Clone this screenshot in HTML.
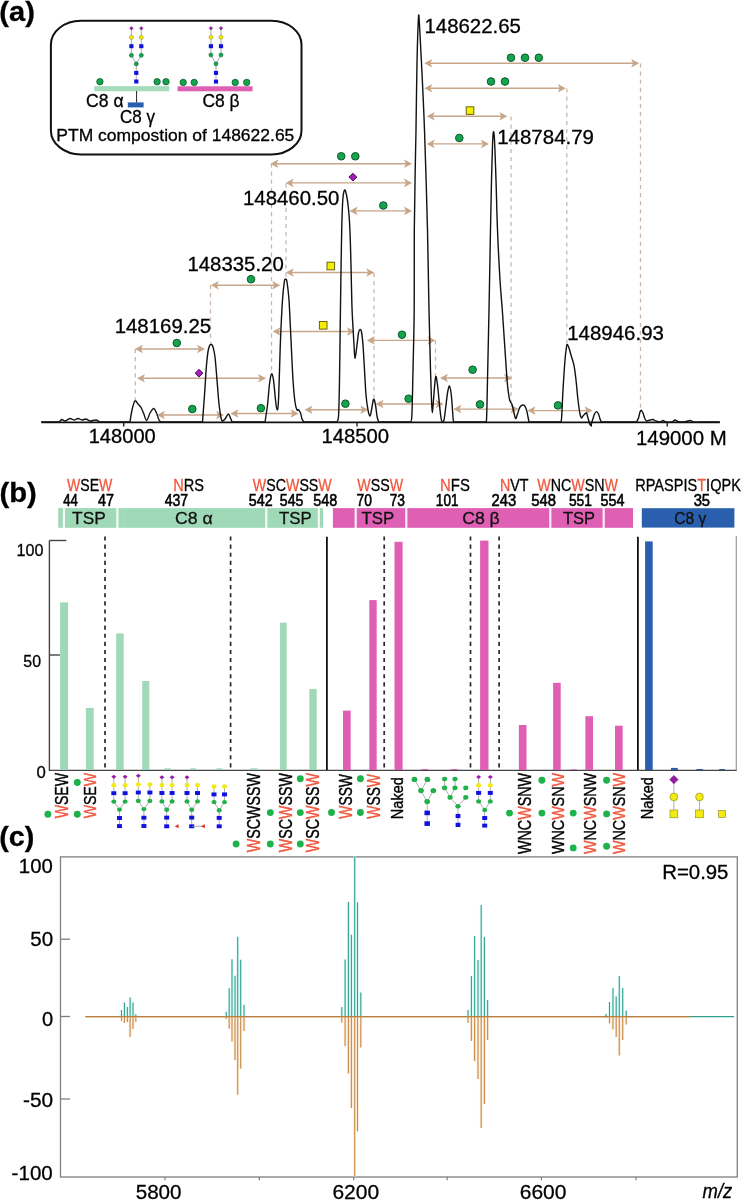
<!DOCTYPE html>
<html><head><meta charset="utf-8"><style>
html,body{margin:0;padding:0;background:#fff;}
svg{display:block;will-change:transform;}
text{font-family:"Liberation Sans", sans-serif;}
</style></head><body>
<svg width="742" height="1200" viewBox="0 0 742 1200">
<rect width="742" height="1200" fill="#fff"/>
<text x="-0.65" y="21.18" fill="#000" font-size="28.54" textLength="35.49" lengthAdjust="spacingAndGlyphs" font-weight="bold" stroke-width="0.3" stroke="#000">(a)</text>
<rect x="50.9" y="20.8" width="250.6" height="133.6" rx="30" ry="24" fill="none" stroke="#111" stroke-width="2"/>
<rect x="94.2" y="86.1" width="75" height="5.2" fill="#a6dcbc"/>
<line x1="136.6" y1="91" x2="136.6" y2="102.6" stroke="#222" stroke-width="1"/>
<rect x="127.8" y="102.4" width="15.8" height="5" fill="#2a5fae"/>
<rect x="177.5" y="86.3" width="75.1" height="5" fill="#df5fb4"/>
<circle cx="99.9" cy="81.7" r="3.2" fill="#16a34e" stroke="#0c5a2a" stroke-width="0.8"/>
<circle cx="157.1" cy="81.7" r="3.2" fill="#16a34e" stroke="#0c5a2a" stroke-width="0.8"/>
<circle cx="166" cy="81.7" r="3.2" fill="#16a34e" stroke="#0c5a2a" stroke-width="0.8"/>
<circle cx="183.2" cy="82.4" r="3.2" fill="#16a34e" stroke="#0c5a2a" stroke-width="0.8"/>
<circle cx="194.2" cy="82.4" r="3.2" fill="#16a34e" stroke="#0c5a2a" stroke-width="0.8"/>
<circle cx="235.2" cy="82.4" r="3.2" fill="#16a34e" stroke="#0c5a2a" stroke-width="0.8"/>
<circle cx="246.7" cy="82.4" r="3.2" fill="#16a34e" stroke="#0c5a2a" stroke-width="0.8"/>
<path d="M131.4,28.3V55.3L136.3,63.9L141.3,55.3V28.3M136.3,63.9V81.5" fill="none" stroke="#888" stroke-width="0.7"/>
<path d="M131.4,26.5L133.2,28.3L131.4,30.1L129.6,28.3Z" fill="#a21fb5" stroke="#4e0a58" stroke-width="0.4"/>
<circle cx="131.4" cy="37.4" r="2" fill="#f4ee00" stroke="#6a6410" stroke-width="0.4"/>
<rect x="129.3" y="44.2" width="4.2" height="4" fill="#1010e0"/>
<circle cx="131.4" cy="55.3" r="2.1" fill="#16a34e" stroke="#0c5a2a" stroke-width="0.4"/>
<path d="M141.3,26.5L143.1,28.3L141.3,30.1L139.5,28.3Z" fill="#a21fb5" stroke="#4e0a58" stroke-width="0.4"/>
<circle cx="141.3" cy="37.4" r="2" fill="#f4ee00" stroke="#6a6410" stroke-width="0.4"/>
<rect x="139.2" y="44.2" width="4.2" height="4" fill="#1010e0"/>
<circle cx="141.3" cy="55.3" r="2.1" fill="#16a34e" stroke="#0c5a2a" stroke-width="0.4"/>
<circle cx="136.3" cy="63.9" r="2.1" fill="#16a34e" stroke="#0c5a2a" stroke-width="0.4"/>
<rect x="134.2" y="70.9" width="4.2" height="4" fill="#1010e0"/>
<rect x="134.2" y="79.5" width="4.2" height="4" fill="#1010e0"/>
<path d="M210.9,28.2V55.0L216.0,63.8L221.0,55.0V28.2M216.0,63.8V81.6" fill="none" stroke="#888" stroke-width="0.7"/>
<path d="M210.9,26.4L212.7,28.2L210.9,30L209.1,28.2Z" fill="#a21fb5" stroke="#4e0a58" stroke-width="0.4"/>
<circle cx="210.9" cy="37.2" r="2" fill="#f4ee00" stroke="#6a6410" stroke-width="0.4"/>
<rect x="208.8" y="44.2" width="4.2" height="4" fill="#1010e0"/>
<circle cx="210.9" cy="55" r="2.1" fill="#16a34e" stroke="#0c5a2a" stroke-width="0.4"/>
<path d="M221,26.4L222.8,28.2L221,30L219.2,28.2Z" fill="#a21fb5" stroke="#4e0a58" stroke-width="0.4"/>
<circle cx="221" cy="37.2" r="2" fill="#f4ee00" stroke="#6a6410" stroke-width="0.4"/>
<rect x="218.9" y="44.2" width="4.2" height="4" fill="#1010e0"/>
<circle cx="221" cy="55" r="2.1" fill="#16a34e" stroke="#0c5a2a" stroke-width="0.4"/>
<circle cx="216" cy="63.8" r="2.1" fill="#16a34e" stroke="#0c5a2a" stroke-width="0.4"/>
<rect x="213.9" y="70.9" width="4.2" height="4" fill="#1010e0"/>
<rect x="213.9" y="79.6" width="4.2" height="4" fill="#1010e0"/>
<text x="86.11" y="107.3" fill="#000" font-size="17.9" textLength="37.5" lengthAdjust="spacingAndGlyphs" stroke-width="0.3" stroke="#000">C8 α</text>
<text x="202.41" y="107" fill="#000" font-size="17.9" textLength="37.18" lengthAdjust="spacingAndGlyphs" stroke-width="0.3" stroke="#000">C8 β</text>
<text x="119.94" y="123.4" fill="#000" font-size="17.9" textLength="35.02" lengthAdjust="spacingAndGlyphs" stroke-width="0.3" stroke="#000">C8 γ</text>
<text x="56.37" y="141.1" fill="#000" font-size="17.2" textLength="237.97" lengthAdjust="spacingAndGlyphs" stroke-width="0.3" stroke="#000">PTM compostion of 148622.65</text>
<line x1="135.3" y1="349" x2="135.3" y2="400" stroke="#cbb6a8" stroke-width="1.3" stroke-dasharray="4.1,4"/>
<line x1="210.5" y1="285" x2="210.5" y2="343" stroke="#cbb6a8" stroke-width="1.3" stroke-dasharray="4.1,4"/>
<line x1="271.5" y1="163.5" x2="271.5" y2="372" stroke="#cbb6a8" stroke-width="1.3" stroke-dasharray="4.1,4"/>
<line x1="286" y1="183.5" x2="286" y2="278" stroke="#cbb6a8" stroke-width="1.3" stroke-dasharray="4.1,4"/>
<line x1="374" y1="273" x2="374" y2="398" stroke="#cbb6a8" stroke-width="1.3" stroke-dasharray="4.1,4"/>
<line x1="435.5" y1="340.5" x2="435.5" y2="376" stroke="#cbb6a8" stroke-width="1.3" stroke-dasharray="4.1,4"/>
<line x1="511" y1="116.5" x2="511" y2="403" stroke="#cbb6a8" stroke-width="1.3" stroke-dasharray="4.1,4"/>
<line x1="566.8" y1="88.5" x2="566.8" y2="343" stroke="#cbb6a8" stroke-width="1.3" stroke-dasharray="4.1,4"/>
<line x1="640.5" y1="63.5" x2="640.5" y2="409" stroke="#cbb6a8" stroke-width="1.3" stroke-dasharray="4.1,4"/>
<line x1="427.3" y1="63.3" x2="636.2" y2="63.3" stroke="#c8a68a" stroke-width="1.4"/>
<path d="M424.3,63.3L432.3,59L430.4,63.3L432.3,67.6Z" fill="#c8a68a"/>
<path d="M639.2,63.3L631.2,59L633.1,63.3L631.2,67.6Z" fill="#c8a68a"/>
<line x1="427.3" y1="88.3" x2="562.8" y2="88.3" stroke="#c8a68a" stroke-width="1.4"/>
<path d="M424.3,88.3L432.3,84L430.4,88.3L432.3,92.6Z" fill="#c8a68a"/>
<path d="M565.8,88.3L557.8,84L559.7,88.3L557.8,92.6Z" fill="#c8a68a"/>
<line x1="429.7" y1="116.2" x2="504.3" y2="116.2" stroke="#c8a68a" stroke-width="1.4"/>
<path d="M426.7,116.2L434.7,111.9L432.8,116.2L434.7,120.5Z" fill="#c8a68a"/>
<path d="M507.3,116.2L499.3,111.9L501.2,116.2L499.3,120.5Z" fill="#c8a68a"/>
<line x1="429.7" y1="143.9" x2="486" y2="143.9" stroke="#c8a68a" stroke-width="1.4"/>
<path d="M426.7,143.9L434.7,139.6L432.8,143.9L434.7,148.2Z" fill="#c8a68a"/>
<path d="M489,143.9L481,139.6L482.9,143.9L481,148.2Z" fill="#c8a68a"/>
<line x1="273.4" y1="163.7" x2="409" y2="163.7" stroke="#c8a68a" stroke-width="1.4"/>
<path d="M270.4,163.7L278.4,159.4L276.5,163.7L278.4,168Z" fill="#c8a68a"/>
<path d="M412,163.7L404,159.4L405.9,163.7L404,168Z" fill="#c8a68a"/>
<line x1="288.6" y1="182.9" x2="409" y2="182.9" stroke="#c8a68a" stroke-width="1.4"/>
<path d="M285.6,182.9L293.6,178.6L291.7,182.9L293.6,187.2Z" fill="#c8a68a"/>
<path d="M412,182.9L404,178.6L405.9,182.9L404,187.2Z" fill="#c8a68a"/>
<line x1="352.6" y1="210.9" x2="409" y2="210.9" stroke="#c8a68a" stroke-width="1.4"/>
<path d="M349.6,210.9L357.6,206.6L355.7,210.9L357.6,215.2Z" fill="#c8a68a"/>
<path d="M412,210.9L404,206.6L405.9,210.9L404,215.2Z" fill="#c8a68a"/>
<line x1="213.8" y1="285.3" x2="277.2" y2="285.3" stroke="#c8a68a" stroke-width="1.4"/>
<path d="M210.8,285.3L218.8,281L216.9,285.3L218.8,289.6Z" fill="#c8a68a"/>
<path d="M280.2,285.3L272.2,281L274.1,285.3L272.2,289.6Z" fill="#c8a68a"/>
<line x1="288.8" y1="272.5" x2="371.3" y2="272.5" stroke="#c8a68a" stroke-width="1.4"/>
<path d="M285.8,272.5L293.8,268.2L291.9,272.5L293.8,276.8Z" fill="#c8a68a"/>
<path d="M374.3,272.5L366.3,268.2L368.2,272.5L366.3,276.8Z" fill="#c8a68a"/>
<line x1="275.6" y1="331.5" x2="351.9" y2="331.5" stroke="#c8a68a" stroke-width="1.4"/>
<path d="M272.6,331.5L280.6,327.2L278.7,331.5L280.6,335.8Z" fill="#c8a68a"/>
<path d="M354.9,331.5L346.9,327.2L348.8,331.5L346.9,335.8Z" fill="#c8a68a"/>
<line x1="369.8" y1="340.4" x2="432.5" y2="340.4" stroke="#c8a68a" stroke-width="1.4"/>
<path d="M366.8,340.4L374.8,336.1L372.9,340.4L374.8,344.7Z" fill="#c8a68a"/>
<path d="M435.5,340.4L427.5,336.1L429.4,340.4L427.5,344.7Z" fill="#c8a68a"/>
<line x1="137.9" y1="349" x2="202" y2="349" stroke="#c8a68a" stroke-width="1.4"/>
<path d="M134.9,349L142.9,344.7L141,349L142.9,353.3Z" fill="#c8a68a"/>
<path d="M205,349L197,344.7L198.9,349L197,353.3Z" fill="#c8a68a"/>
<line x1="140" y1="378.3" x2="263" y2="378.3" stroke="#c8a68a" stroke-width="1.4"/>
<path d="M137,378.3L145,374L143.1,378.3L145,382.6Z" fill="#c8a68a"/>
<path d="M266,378.3L258,374L259.9,378.3L258,382.6Z" fill="#c8a68a"/>
<line x1="160" y1="415" x2="221" y2="415" stroke="#c8a68a" stroke-width="1.4"/>
<path d="M157,415L165,410.7L163.1,415L165,419.3Z" fill="#c8a68a"/>
<path d="M224,415L216,410.7L217.9,415L216,419.3Z" fill="#c8a68a"/>
<line x1="233.4" y1="413.5" x2="295.6" y2="413.5" stroke="#c8a68a" stroke-width="1.4"/>
<path d="M230.4,413.5L238.4,409.2L236.5,413.5L238.4,417.8Z" fill="#c8a68a"/>
<path d="M298.6,413.5L290.6,409.2L292.5,413.5L290.6,417.8Z" fill="#c8a68a"/>
<line x1="307.5" y1="409.7" x2="365.2" y2="409.7" stroke="#c8a68a" stroke-width="1.4"/>
<path d="M304.5,409.7L312.5,405.4L310.6,409.7L312.5,414Z" fill="#c8a68a"/>
<path d="M368.2,409.7L360.2,405.4L362.1,409.7L360.2,414Z" fill="#c8a68a"/>
<line x1="378.6" y1="404" x2="440.6" y2="404" stroke="#c8a68a" stroke-width="1.4"/>
<path d="M375.6,404L383.6,399.7L381.7,404L383.6,408.3Z" fill="#c8a68a"/>
<path d="M443.6,404L435.6,399.7L437.5,404L435.6,408.3Z" fill="#c8a68a"/>
<line x1="443" y1="378" x2="509" y2="378" stroke="#c8a68a" stroke-width="1.4"/>
<path d="M440,378L448,373.7L446.1,378L448,382.3Z" fill="#c8a68a"/>
<path d="M512,378L504,373.7L505.9,378L504,382.3Z" fill="#c8a68a"/>
<line x1="456.4" y1="409.1" x2="515.6" y2="409.1" stroke="#c8a68a" stroke-width="1.4"/>
<path d="M453.4,409.1L461.4,404.8L459.5,409.1L461.4,413.4Z" fill="#c8a68a"/>
<path d="M518.6,409.1L510.6,404.8L512.5,409.1L510.6,413.4Z" fill="#c8a68a"/>
<line x1="530.5" y1="410.6" x2="589.5" y2="410.6" stroke="#c8a68a" stroke-width="1.4"/>
<path d="M527.5,410.6L535.5,406.3L533.6,410.6L535.5,414.9Z" fill="#c8a68a"/>
<path d="M592.5,410.6L584.5,406.3L586.4,410.6L584.5,414.9Z" fill="#c8a68a"/>
<circle cx="511" cy="57.7" r="3.8" fill="#16a34e" stroke="#0c5a2a" stroke-width="1.0"/>
<circle cx="525" cy="57.7" r="3.8" fill="#16a34e" stroke="#0c5a2a" stroke-width="1.0"/>
<circle cx="538.8" cy="57.7" r="3.8" fill="#16a34e" stroke="#0c5a2a" stroke-width="1.0"/>
<circle cx="491" cy="81.5" r="3.8" fill="#16a34e" stroke="#0c5a2a" stroke-width="1.0"/>
<circle cx="505" cy="81.5" r="3.8" fill="#16a34e" stroke="#0c5a2a" stroke-width="1.0"/>
<circle cx="459.3" cy="138" r="3.8" fill="#16a34e" stroke="#0c5a2a" stroke-width="1.0"/>
<circle cx="341.2" cy="156.3" r="3.8" fill="#16a34e" stroke="#0c5a2a" stroke-width="1.0"/>
<circle cx="355.3" cy="156.3" r="3.8" fill="#16a34e" stroke="#0c5a2a" stroke-width="1.0"/>
<circle cx="383.3" cy="205.5" r="3.8" fill="#16a34e" stroke="#0c5a2a" stroke-width="1.0"/>
<circle cx="251" cy="279.2" r="3.8" fill="#16a34e" stroke="#0c5a2a" stroke-width="1.0"/>
<circle cx="402" cy="334.7" r="3.8" fill="#16a34e" stroke="#0c5a2a" stroke-width="1.0"/>
<circle cx="176.8" cy="343" r="3.8" fill="#16a34e" stroke="#0c5a2a" stroke-width="1.0"/>
<circle cx="192.3" cy="409" r="3.8" fill="#16a34e" stroke="#0c5a2a" stroke-width="1.0"/>
<circle cx="260.9" cy="408.2" r="3.8" fill="#16a34e" stroke="#0c5a2a" stroke-width="1.0"/>
<circle cx="345.4" cy="403.7" r="3.8" fill="#16a34e" stroke="#0c5a2a" stroke-width="1.0"/>
<circle cx="408.6" cy="398.7" r="3.8" fill="#16a34e" stroke="#0c5a2a" stroke-width="1.0"/>
<circle cx="472.6" cy="369.7" r="3.8" fill="#16a34e" stroke="#0c5a2a" stroke-width="1.0"/>
<circle cx="480" cy="404.4" r="3.8" fill="#16a34e" stroke="#0c5a2a" stroke-width="1.0"/>
<circle cx="558" cy="405.4" r="3.8" fill="#16a34e" stroke="#0c5a2a" stroke-width="1.0"/>
<rect x="466.2" y="106.8" width="7.6" height="7.6" fill="#f4ee00" stroke="#6a6410" stroke-width="1.0"/>
<rect x="327" y="262.2" width="7.6" height="7.6" fill="#f4ee00" stroke="#6a6410" stroke-width="1.0"/>
<rect x="319.4" y="321.5" width="7.6" height="7.6" fill="#f4ee00" stroke="#6a6410" stroke-width="1.0"/>
<path d="M352.9,173.2L356.8,177.1L352.9,181L349,177.1Z" fill="#a21fb5" stroke="#4e0a58" stroke-width="1.0"/>
<path d="M199,369.3L202.9,373.2L199,377.1L195.1,373.2Z" fill="#a21fb5" stroke="#4e0a58" stroke-width="1.0"/>
<path d="M41.3,422L59,422C59.5,421.58 61,419.67 62,419.5C63,419.33 63.67,421.17 65,421C66.33,420.83 68.5,418.67 70,418.5C71.5,418.33 72.67,420 74,420C75.33,420 76.67,418.5 78,418.5C79.33,418.5 80.67,419.92 82,420C83.33,420.08 84.67,418.83 86,419C87.33,419.17 88.33,420.83 90,421C91.67,421.17 94.33,419.83 96,420C97.67,420.17 99.33,421.67 100,422L130,422C130.33,420 131.18,413.5 132,410C132.82,406.5 133.9,402 134.9,401C135.9,400 136.98,402.92 138,404C139.02,405.08 140.08,406 141,407.5C141.92,409 142.57,410.83 143.5,413C144.43,415.17 145.52,420.5 146.6,420.5C147.68,420.5 148.8,415 150,413C151.2,411 152.72,408.5 153.8,408.5C154.88,408.5 155.63,411.08 156.5,413C157.37,414.92 158.25,418.5 159,420C159.75,421.5 160.67,421.67 161,422L202.5,422C202.83,417.5 203.83,404.5 204.5,395C205.17,385.5 205.83,372.67 206.5,365C207.17,357.33 207.78,352.45 208.5,349C209.22,345.55 210.05,344.63 210.8,344.3C211.55,343.97 212.3,344.88 213,347C213.7,349.12 214.33,351.5 215,357C215.67,362.5 216.33,372.17 217,380C217.67,387.83 218.33,397.67 219,404C219.67,410.33 220.42,415.17 221,418C221.58,420.83 221.83,420.83 222.5,421C223.17,421.17 224.03,420.17 225,419C225.97,417.83 227.38,414.17 228.3,414C229.22,413.83 229.88,416.67 230.5,418C231.12,419.33 231.75,421.33 232,422L265,422C265.42,419.17 266.75,411.33 267.5,405C268.25,398.67 268.83,389.17 269.5,384C270.17,378.83 270.83,374.67 271.5,374C272.17,373.33 272.83,375.67 273.5,380C274.17,384.33 274.92,395.05 275.5,400C276.08,404.95 276.5,409.7 277,409.7C277.5,409.7 277.92,411.62 278.5,400C279.08,388.38 279.83,356.67 280.5,340C281.17,323.33 281.87,309.67 282.5,300C283.13,290.33 283.8,285.47 284.3,282C284.8,278.53 285.05,279.2 285.5,279.2C285.95,279.2 286.42,278.53 287,282C287.58,285.47 288.33,290.33 289,300C289.67,309.67 290.33,326.67 291,340C291.67,353.33 292.33,369.67 293,380C293.67,390.33 294.33,397 295,402C295.67,407 296.4,408.72 297,410C297.6,411.28 298.02,409.2 298.6,409.7C299.18,410.2 299.93,411.45 300.5,413C301.07,414.55 301.42,417.5 302,419C302.58,420.5 303.67,421.5 304,422L337,422C337.27,420.83 338.18,422 338.6,415C339.02,408 339.22,395.83 339.5,380C339.78,364.17 340.05,338.33 340.3,320C340.55,301.67 340.77,285 341,270C341.23,255 341.4,241.67 341.7,230C342,218.33 342.32,206.67 342.8,200C343.28,193.33 343.98,190.83 344.6,190C345.22,189.17 345.88,192.17 346.5,195C347.12,197.83 347.8,202.5 348.3,207C348.8,211.5 349.17,216.5 349.5,222C349.83,227.5 350.05,232.83 350.3,240C350.55,247.17 350.73,254.17 351,265C351.27,275.83 351.58,294.83 351.9,305C352.22,315.17 352.55,319.33 352.9,326C353.25,332.67 353.65,339.58 354,345C354.35,350.42 354.5,358.5 355,358.5C355.5,358.5 356.42,349.25 357,345C357.58,340.75 358,335.6 358.5,333C359,330.4 359.5,329.57 360,329.4C360.5,329.23 361,329.4 361.5,332C362,334.6 362.5,338.67 363,345C363.5,351.33 364,361.67 364.5,370C365,378.33 365.42,388.33 366,395C366.58,401.67 367.33,406.5 368,410C368.67,413.5 369.42,416 370,416C370.58,416 370.9,412.78 371.5,410C372.1,407.22 372.93,400.13 373.6,399.3C374.27,398.47 374.93,402.22 375.5,405C376.07,407.78 376.48,413.17 377,416C377.52,418.83 378.33,421 378.6,422L410.5,422C410.73,420.83 411.48,423.67 411.9,415C412.32,406.33 412.62,387.5 413,370C413.38,352.5 413.98,333.33 414.2,310C414.42,286.67 414.13,253.33 414.3,230C414.47,206.67 414.92,186.67 415.2,170C415.48,153.33 415.7,147.83 416,130C416.3,112.17 416.58,81.75 417,63C417.42,44.25 418.08,23.83 418.5,17.5C418.92,11.17 419,17.42 419.5,25C420,32.58 420.67,45.5 421.5,63C422.33,80.5 423.5,102.17 424.5,130C425.5,157.83 426.75,200 427.5,230C428.25,260 428.5,286.67 429,310C429.5,333.33 430.08,355 430.5,370C430.92,385 431.2,392.88 431.5,400C431.8,407.12 431.97,412.7 432.3,412.7C432.63,412.7 432.95,405.95 433.5,400C434.05,394.05 434.93,379.5 435.6,377C436.27,374.5 436.85,380.33 437.5,385C438.15,389.67 438.92,399.5 439.5,405C440.08,410.5 440.57,415.25 441,418C441.43,420.75 441.6,421.17 442.1,421.5C442.6,421.83 443.35,422.75 444,420C444.65,417.25 445.42,409.5 446,405C446.58,400.5 446.92,396.17 447.5,393C448.08,389.83 448.87,385.67 449.5,386C450.13,386.33 450.8,391 451.3,395C451.8,399 452.15,405.67 452.5,410C452.85,414.33 452.98,419 453.4,421C453.82,423 454.73,421.83 455,422L485.5,422C485.68,421.33 486.27,425 486.6,418C486.93,411 487.1,398 487.5,380C487.9,362 488.53,333.33 489,310C489.47,286.67 489.88,261.67 490.3,240C490.72,218.33 491.13,195.83 491.5,180C491.87,164.17 492.18,153 492.5,145C492.82,137 493.07,132.83 493.4,132C493.73,131.17 494.07,132 494.5,140C494.93,148 495.5,165 496,180C496.5,195 496.83,213.33 497.5,230C498.17,246.67 499.2,266.67 500,280C500.8,293.33 501.47,298.33 502.3,310C503.13,321.67 504.13,337.5 505,350C505.87,362.5 506.72,376.67 507.5,385C508.28,393.33 508.95,396.77 509.7,400C510.45,403.23 511.32,402.4 512,404.4C512.68,406.4 513.2,409.63 513.8,412C514.4,414.37 514.98,418.27 515.6,418.6C516.22,418.93 516.77,415.93 517.5,414C518.23,412.07 518.93,408.47 520,407C521.07,405.53 522.82,404.7 523.9,405.2C524.98,405.7 525.82,408.03 526.5,410C527.18,411.97 527.58,415 528,417C528.42,419 528.83,421.17 529,422L560.5,422C560.68,421.33 561.18,423.33 561.6,418C562.02,412.67 562.43,399.67 563,390C563.57,380.33 564.42,367.17 565,360C565.58,352.83 566.12,349.6 566.5,347C566.88,344.4 566.88,344.23 567.3,344.4C567.72,344.57 568.38,346.23 569,348C569.62,349.77 570.17,352.12 571,355C571.83,357.88 573.17,361.13 574,365.3C574.83,369.47 575.33,374.22 576,380C576.67,385.78 577.33,394.33 578,400C578.67,405.67 579.42,411 580,414C580.58,417 581,417.67 581.5,418C582,418.33 582.2,416.83 583,416C583.8,415.17 585.47,412.67 586.3,413C587.13,413.33 587.32,415.97 588,418C588.68,420.03 589.65,424.87 590.4,425.2C591.15,425.53 591.82,421.87 592.5,420C593.18,418.13 593.82,415.4 594.5,414C595.18,412.6 595.93,411.6 596.6,411.6C597.27,411.6 597.93,412.77 598.5,414C599.07,415.23 599.53,417.67 600,419C600.47,420.33 601.08,421.5 601.3,422L636.5,422C636.83,421.33 637.92,419.67 638.5,418C639.08,416.33 639.53,413.28 640,412C640.47,410.72 640.8,410.13 641.3,410.3C641.8,410.47 642.38,411.55 643,413C643.62,414.45 644.33,417.67 645,419C645.67,420.33 646.17,420.83 647,421C647.83,421.17 649,420.25 650,420C651,419.75 652,419.33 653,419.5C654,419.67 654.83,420.58 656,421C657.17,421.42 658.83,422.08 660,422C661.17,421.92 662,420.5 663,420.5C664,420.5 664.5,421.75 666,422C667.5,422.25 670.5,422.33 672,422C673.5,421.67 674,420.08 675,420C676,419.92 676.5,421.17 678,421.5C679.5,421.83 682,422.17 684,422C686,421.83 688.33,420.5 690,420.5C691.67,420.5 692.33,421.75 694,422C695.67,422.25 699,422 700,422L719.7,422" fill="none" stroke="#111" stroke-width="1.4" stroke-linejoin="round"/>
<line x1="41.3" y1="422.3" x2="719.9" y2="422.3" stroke="#111" stroke-width="1.8"/>
<line x1="123.7" y1="422" x2="123.7" y2="426.6" stroke="#111" stroke-width="1.3"/>
<line x1="357.0" y1="422" x2="357.0" y2="426.6" stroke="#111" stroke-width="1.3"/>
<line x1="591.4" y1="422" x2="591.4" y2="426.6" stroke="#111" stroke-width="1.3"/>
<line x1="667.2" y1="422" x2="667.2" y2="426.6" stroke="#111" stroke-width="1.3"/>
<text x="424.44" y="33.4" fill="#000" font-size="20.76" textLength="96.51" lengthAdjust="spacingAndGlyphs" stroke-width="0.3" stroke="#000">148622.65</text>
<text x="497.24" y="143.9" fill="#000" font-size="20.48" textLength="96.73" lengthAdjust="spacingAndGlyphs" stroke-width="0.3" stroke="#000">148784.79</text>
<text x="242.95" y="204.5" fill="#000" font-size="20.76" textLength="96.45" lengthAdjust="spacingAndGlyphs" stroke-width="0.3" stroke="#000">148460.50</text>
<text x="187.45" y="270.7" fill="#000" font-size="20.76" textLength="96.35" lengthAdjust="spacingAndGlyphs" stroke-width="0.3" stroke="#000">148335.20</text>
<text x="114.64" y="332.5" fill="#000" font-size="20.76" textLength="96.51" lengthAdjust="spacingAndGlyphs" stroke-width="0.3" stroke="#000">148169.25</text>
<text x="567.24" y="339.9" fill="#000" font-size="20.62" textLength="96.66" lengthAdjust="spacingAndGlyphs" stroke-width="0.3" stroke="#000">148946.93</text>
<text x="88.67" y="442.7" fill="#000" font-size="20.34" textLength="67.12" lengthAdjust="spacingAndGlyphs" stroke-width="0.3" stroke="#000">148000</text>
<text x="321.46" y="442.7" fill="#000" font-size="20.34" textLength="67.64" lengthAdjust="spacingAndGlyphs" stroke-width="0.3" stroke="#000">148500</text>
<text x="635.95" y="444.5" fill="#000" font-size="20.76" textLength="90.73" lengthAdjust="spacingAndGlyphs" stroke-width="0.3" stroke="#000">149000 M</text>
<text x="-0.46" y="502.1" fill="#000" font-size="28.43" textLength="37.31" lengthAdjust="spacingAndGlyphs" font-weight="bold" stroke-width="0.3" stroke="#000">(b)</text>
<text x="66.94" y="490.9" fill="#000" font-size="17.1" textLength="45.41" lengthAdjust="spacingAndGlyphs" stroke-width="0.3"><tspan fill="#f0573d" stroke="#f0573d">W</tspan><tspan fill="#000" stroke="#000">SE</tspan><tspan fill="#f0573d" stroke="#f0573d">W</tspan></text>
<text x="173.3" y="490.9" fill="#000" font-size="17.1" textLength="30.76" lengthAdjust="spacingAndGlyphs" stroke-width="0.3"><tspan fill="#f0573d" stroke="#f0573d">N</tspan><tspan fill="#000" stroke="#000">RS</tspan></text>
<text x="252.84" y="490.9" fill="#000" font-size="17.1" textLength="78.91" lengthAdjust="spacingAndGlyphs" stroke-width="0.3"><tspan fill="#f0573d" stroke="#f0573d">W</tspan><tspan fill="#000" stroke="#000">SC</tspan><tspan fill="#f0573d" stroke="#f0573d">W</tspan><tspan fill="#000" stroke="#000">SS</tspan><tspan fill="#f0573d" stroke="#f0573d">W</tspan></text>
<text x="357.24" y="490.9" fill="#000" font-size="17.1" textLength="45.81" lengthAdjust="spacingAndGlyphs" stroke-width="0.3"><tspan fill="#f0573d" stroke="#f0573d">W</tspan><tspan fill="#000" stroke="#000">SS</tspan><tspan fill="#f0573d" stroke="#f0573d">W</tspan></text>
<text x="440.08" y="490.9" fill="#000" font-size="17.1" textLength="29.81" lengthAdjust="spacingAndGlyphs" stroke-width="0.3"><tspan fill="#f0573d" stroke="#f0573d">N</tspan><tspan fill="#000" stroke="#000">FS</tspan></text>
<text x="499.93" y="490.9" fill="#000" font-size="17.1" textLength="28.6" lengthAdjust="spacingAndGlyphs" stroke-width="0.3"><tspan fill="#f0573d" stroke="#f0573d">N</tspan><tspan fill="#000" stroke="#000">VT</tspan></text>
<text x="537.34" y="490.9" fill="#000" font-size="17.1" textLength="80.71" lengthAdjust="spacingAndGlyphs" stroke-width="0.3"><tspan fill="#f0573d" stroke="#f0573d">W</tspan><tspan fill="#000" stroke="#000">NC</tspan><tspan fill="#f0573d" stroke="#f0573d">W</tspan><tspan fill="#000" stroke="#000">SN</tspan><tspan fill="#f0573d" stroke="#f0573d">W</tspan></text>
<text x="635.22" y="490.9" fill="#000" font-size="17.1" textLength="105.64" lengthAdjust="spacingAndGlyphs" stroke-width="0.3"><tspan fill="#000" stroke="#000">RPASPIS</tspan><tspan fill="#f0573d" stroke="#f0573d">T</tspan><tspan fill="#000" stroke="#000">IQPK</tspan></text>
<text x="63.2" y="506" fill="#000" font-size="17.1" textLength="14.59" lengthAdjust="spacingAndGlyphs" stroke-width="0.6" stroke="#000">44</text>
<text x="98.07" y="506" fill="#000" font-size="17.1" textLength="15.95" lengthAdjust="spacingAndGlyphs" stroke-width="0.6" stroke="#000">47</text>
<text x="164.68" y="506" fill="#000" font-size="17.1" textLength="23.43" lengthAdjust="spacingAndGlyphs" stroke-width="0.6" stroke="#000">437</text>
<text x="248.83" y="506" fill="#000" font-size="17.1" textLength="23.89" lengthAdjust="spacingAndGlyphs" stroke-width="0.6" stroke="#000">542</text>
<text x="279.83" y="506" fill="#000" font-size="17.1" textLength="23.56" lengthAdjust="spacingAndGlyphs" stroke-width="0.6" stroke="#000">545</text>
<text x="313.32" y="506" fill="#000" font-size="17.1" textLength="24" lengthAdjust="spacingAndGlyphs" stroke-width="0.6" stroke="#000">548</text>
<text x="356.59" y="506" fill="#000" font-size="17.1" textLength="15.35" lengthAdjust="spacingAndGlyphs" stroke-width="0.6" stroke="#000">70</text>
<text x="389.69" y="506" fill="#000" font-size="17.1" textLength="15.31" lengthAdjust="spacingAndGlyphs" stroke-width="0.6" stroke="#000">73</text>
<text x="435.87" y="506" fill="#000" font-size="17.1" textLength="22.59" lengthAdjust="spacingAndGlyphs" stroke-width="0.6" stroke="#000">101</text>
<text x="491.56" y="506" fill="#000" font-size="17.1" textLength="24.69" lengthAdjust="spacingAndGlyphs" stroke-width="0.6" stroke="#000">243</text>
<text x="531.31" y="506" fill="#000" font-size="17.1" textLength="24.74" lengthAdjust="spacingAndGlyphs" stroke-width="0.6" stroke="#000">548</text>
<text x="568.95" y="506" fill="#000" font-size="17.1" textLength="23.03" lengthAdjust="spacingAndGlyphs" stroke-width="0.6" stroke="#000">551</text>
<text x="600.42" y="506" fill="#000" font-size="17.1" textLength="24" lengthAdjust="spacingAndGlyphs" stroke-width="0.6" stroke="#000">554</text>
<text x="693.64" y="506" fill="#000" font-size="17.1" textLength="16.49" lengthAdjust="spacingAndGlyphs" stroke-width="0.6" stroke="#000">35</text>
<rect x="58.2" y="508.1" width="64.9" height="19.7" fill="#a0d9b7"/>
<rect x="123.1" y="508.1" width="200" height="19.7" fill="#a0d9b7"/>
<rect x="332.9" y="508.1" width="300.1" height="19.7" fill="#de5fb3"/>
<rect x="641.8" y="508.2" width="92.6" height="19.4" fill="#2a5fae"/>
<rect x="62.8" y="508" width="2.2" height="20" fill="#f4fbf6"/>
<rect x="116.3" y="508" width="2.2" height="20" fill="#f4fbf6"/>
<rect x="265.2" y="508" width="2.2" height="20" fill="#f4fbf6"/>
<rect x="317.7" y="508" width="2.2" height="20" fill="#f4fbf6"/>
<rect x="354.6" y="508" width="2.2" height="20" fill="#fbeef6"/>
<rect x="405.2" y="508" width="2.2" height="20" fill="#fbeef6"/>
<rect x="549.2" y="508" width="2.2" height="20" fill="#fbeef6"/>
<rect x="602.6" y="508" width="2.2" height="20" fill="#fbeef6"/>
<text x="72.11" y="524.3" fill="#111" font-size="17.3" textLength="33.7" lengthAdjust="spacingAndGlyphs" stroke-width="0.3" stroke="#111">TSP</text>
<text x="279.02" y="524.3" fill="#111" font-size="17.3" textLength="32.77" lengthAdjust="spacingAndGlyphs" stroke-width="0.3" stroke="#111">TSP</text>
<text x="361.42" y="524.3" fill="#111" font-size="17.3" textLength="32.77" lengthAdjust="spacingAndGlyphs" stroke-width="0.3" stroke="#111">TSP</text>
<text x="563.03" y="524.3" fill="#111" font-size="17.3" textLength="32.04" lengthAdjust="spacingAndGlyphs" stroke-width="0.3" stroke="#111">TSP</text>
<text x="175.1" y="524.3" fill="#111" font-size="17.3" textLength="37.71" lengthAdjust="spacingAndGlyphs" stroke-width="0.3" stroke="#111">C8 α</text>
<text x="462.2" y="524.3" fill="#111" font-size="17.3" textLength="37.59" lengthAdjust="spacingAndGlyphs" stroke-width="0.3" stroke="#111">C8 β</text>
<text x="674.21" y="524.3" fill="#111" font-size="17.3" textLength="32.04" lengthAdjust="spacingAndGlyphs" stroke-width="0.3" stroke="#111">C8 γ</text>
<line x1="49.4" y1="540.5" x2="49.4" y2="770.5" stroke="#444" stroke-width="1.4"/>
<line x1="49.4" y1="540.5" x2="66.3" y2="540.5" stroke="#444" stroke-width="1.4"/>
<line x1="49.4" y1="655" x2="59.9" y2="655" stroke="#444" stroke-width="1.4"/>
<line x1="48.8" y1="770.4" x2="736.8" y2="770.4" stroke="#444" stroke-width="1.3"/>
<line x1="736.3" y1="536" x2="736.3" y2="770.5" stroke="#999" stroke-width="1.2"/>
<text x="16.57" y="555.93" fill="#000" font-size="17.09" textLength="26.96" lengthAdjust="spacingAndGlyphs" stroke-width="0.3" stroke="#000">100</text>
<text x="23.36" y="666.93" fill="#000" font-size="17.09" textLength="17.66" lengthAdjust="spacingAndGlyphs" stroke-width="0.3" stroke="#000">50</text>
<text x="36.45" y="777.94" fill="#000" font-size="16.81" textLength="9.31" lengthAdjust="spacingAndGlyphs" stroke-width="0.3" stroke="#000">0</text>
<line x1="105.0" y1="536.5" x2="105.0" y2="770" stroke="#2a2a2a" stroke-width="1.7" stroke-dasharray="4.1,4"/>
<line x1="230.6" y1="536.5" x2="230.6" y2="770" stroke="#2a2a2a" stroke-width="1.7" stroke-dasharray="4.1,4"/>
<line x1="384.2" y1="536.5" x2="384.2" y2="770" stroke="#2a2a2a" stroke-width="1.7" stroke-dasharray="4.1,4"/>
<line x1="470.5" y1="536.5" x2="470.5" y2="770" stroke="#2a2a2a" stroke-width="1.7" stroke-dasharray="4.1,4"/>
<line x1="499.1" y1="536.5" x2="499.1" y2="770" stroke="#2a2a2a" stroke-width="1.7" stroke-dasharray="4.1,4"/>
<line x1="326.9" y1="536.7" x2="326.9" y2="770" stroke="#111" stroke-width="1.8"/>
<line x1="637.9" y1="536.7" x2="637.9" y2="770" stroke="#111" stroke-width="1.8"/>
<rect x="60.1" y="602.4" width="8" height="167.6" fill="#a0d9b7"/>
<rect x="85.9" y="707.9" width="7.8" height="62.1" fill="#a0d9b7"/>
<rect x="116.2" y="633.4" width="7.5" height="136.6" fill="#a0d9b7"/>
<rect x="142.2" y="681.0" width="7.1" height="89" fill="#a0d9b7"/>
<rect x="164.4" y="768.3" width="6.4" height="1.7" fill="#a0d9b7"/>
<rect x="190.4" y="768.3" width="6" height="1.7" fill="#a0d9b7"/>
<rect x="216.3" y="768.3" width="6.1" height="1.7" fill="#a0d9b7"/>
<rect x="250.3" y="768.3" width="7.4" height="1.7" fill="#a0d9b7"/>
<rect x="280.0" y="622.7" width="6.7" height="147.3" fill="#a0d9b7"/>
<rect x="309.3" y="689.0" width="7.4" height="81" fill="#a0d9b7"/>
<rect x="343.0" y="710.6" width="7.7" height="59.4" fill="#de5fb3"/>
<rect x="369.3" y="600.1" width="7.4" height="169.9" fill="#de5fb3"/>
<rect x="394.5" y="541.8" width="8.1" height="228.2" fill="#de5fb3"/>
<rect x="421.5" y="769.0" width="6.7" height="1" fill="#de5fb3"/>
<rect x="450.8" y="769.0" width="6.7" height="1" fill="#de5fb3"/>
<rect x="480.1" y="540.6" width="8.4" height="229.4" fill="#de5fb3"/>
<rect x="518.9" y="725.0" width="7.6" height="45" fill="#de5fb3"/>
<rect x="553.1" y="682.8" width="7.6" height="87.2" fill="#de5fb3"/>
<rect x="570.2" y="769.3" width="6.8" height="0.7" fill="#de5fb3"/>
<rect x="585.4" y="716.2" width="7.6" height="53.8" fill="#de5fb3"/>
<rect x="615.0" y="725.7" width="7.7" height="44.3" fill="#de5fb3"/>
<rect x="645.1" y="541.4" width="7.6" height="228.6" fill="#2a5fae"/>
<rect x="671.0" y="767.9" width="6.8" height="2.1" fill="#2a5fae"/>
<rect x="696.4" y="769.0" width="6.6" height="1" fill="#2a5fae"/>
<rect x="719.2" y="769.0" width="5.8" height="1" fill="#2a5fae"/>
<text x="-0.06" y="0" fill="#000" font-size="17.66" textLength="45.41" lengthAdjust="spacingAndGlyphs" stroke-width="0.4" transform="translate(68.33,818.3) rotate(-90)"><tspan fill="#f0573d" stroke="#f0573d">W</tspan><tspan fill="#000" stroke="#000">SEW</tspan></text>
<text x="-0.06" y="0" fill="#000" font-size="17.09" textLength="45.41" lengthAdjust="spacingAndGlyphs" stroke-width="0.4" transform="translate(96.33,818.3) rotate(-90)"><tspan fill="#f0573d" stroke="#f0573d">W</tspan><tspan fill="#000" stroke="#000">SE</tspan><tspan fill="#f0573d" stroke="#f0573d">W</tspan></text>
<text x="-0.06" y="0" fill="#000" font-size="17.94" textLength="79.21" lengthAdjust="spacingAndGlyphs" stroke-width="0.4" transform="translate(260.22,852.2) rotate(-90)"><tspan fill="#f0573d" stroke="#f0573d">W</tspan><tspan fill="#000" stroke="#000">SCWSSW</tspan></text>
<text x="-0.06" y="0" fill="#000" font-size="18.36" textLength="79.21" lengthAdjust="spacingAndGlyphs" stroke-width="0.4" transform="translate(291.62,852.2) rotate(-90)"><tspan fill="#f0573d" stroke="#f0573d">W</tspan><tspan fill="#000" stroke="#000">SC</tspan><tspan fill="#f0573d" stroke="#f0573d">W</tspan><tspan fill="#000" stroke="#000">SSW</tspan></text>
<text x="-0.06" y="0" fill="#000" font-size="17.94" textLength="79.21" lengthAdjust="spacingAndGlyphs" stroke-width="0.4" transform="translate(318.52,852.2) rotate(-90)"><tspan fill="#f0573d" stroke="#f0573d">W</tspan><tspan fill="#000" stroke="#000">SC</tspan><tspan fill="#f0573d" stroke="#f0573d">W</tspan><tspan fill="#000" stroke="#000">SS</tspan><tspan fill="#f0573d" stroke="#f0573d">W</tspan></text>
<text x="-0.06" y="0" fill="#000" font-size="17.94" textLength="44.61" lengthAdjust="spacingAndGlyphs" stroke-width="0.4" transform="translate(352.12,818.6) rotate(-90)"><tspan fill="#f0573d" stroke="#f0573d">W</tspan><tspan fill="#000" stroke="#000">SSW</tspan></text>
<text x="-0.06" y="0" fill="#000" font-size="18.36" textLength="44.61" lengthAdjust="spacingAndGlyphs" stroke-width="0.4" transform="translate(379.82,818.6) rotate(-90)"><tspan fill="#f0573d" stroke="#f0573d">W</tspan><tspan fill="#000" stroke="#000">SS</tspan><tspan fill="#f0573d" stroke="#f0573d">W</tspan></text>
<text x="-1.19" y="0" fill="#000" font-size="17.29" textLength="42.03" lengthAdjust="spacingAndGlyphs" stroke-width="0.4" transform="translate(403.23,818) rotate(-90)"><tspan fill="#000" stroke="#000">Naked</tspan></text>
<text x="-0.06" y="0" fill="#000" font-size="17.8" textLength="80.91" lengthAdjust="spacingAndGlyphs" stroke-width="0.4" transform="translate(531.03,853.9) rotate(-90)"><tspan fill="#000" stroke="#000">WNC</tspan><tspan fill="#f0573d" stroke="#f0573d">W</tspan><tspan fill="#000" stroke="#000">SNW</tspan></text>
<text x="-0.06" y="0" fill="#000" font-size="17.09" textLength="80.91" lengthAdjust="spacingAndGlyphs" stroke-width="0.4" transform="translate(563.93,853.9) rotate(-90)"><tspan fill="#000" stroke="#000">WNC</tspan><tspan fill="#f0573d" stroke="#f0573d">W</tspan><tspan fill="#000" stroke="#000">SN</tspan><tspan fill="#f0573d" stroke="#f0573d">W</tspan></text>
<text x="-0.06" y="0" fill="#000" font-size="17.09" textLength="80.91" lengthAdjust="spacingAndGlyphs" stroke-width="0.4" transform="translate(595.63,853.9) rotate(-90)"><tspan fill="#f0573d" stroke="#f0573d">W</tspan><tspan fill="#000" stroke="#000">NC</tspan><tspan fill="#f0573d" stroke="#f0573d">W</tspan><tspan fill="#000" stroke="#000">SNW</tspan></text>
<text x="-0.06" y="0" fill="#000" font-size="17.23" textLength="80.91" lengthAdjust="spacingAndGlyphs" stroke-width="0.4" transform="translate(625.23,853.9) rotate(-90)"><tspan fill="#f0573d" stroke="#f0573d">W</tspan><tspan fill="#000" stroke="#000">NC</tspan><tspan fill="#f0573d" stroke="#f0573d">W</tspan><tspan fill="#000" stroke="#000">SN</tspan><tspan fill="#f0573d" stroke="#f0573d">W</tspan></text>
<text x="-1.19" y="0" fill="#000" font-size="17.02" textLength="42.03" lengthAdjust="spacingAndGlyphs" stroke-width="0.4" transform="translate(652.83,818) rotate(-90)"><tspan fill="#000" stroke="#000">Naked</tspan></text>
<circle cx="47.9" cy="814.2" r="3.45" fill="#1db34a"/>
<circle cx="77.3" cy="782.5" r="3.45" fill="#1db34a"/>
<circle cx="77.3" cy="814.2" r="3.45" fill="#1db34a"/>
<circle cx="236.1" cy="844" r="3.45" fill="#1db34a"/>
<circle cx="270.3" cy="844" r="3.45" fill="#1db34a"/>
<circle cx="270.3" cy="812.6" r="3.45" fill="#1db34a"/>
<circle cx="300.3" cy="844" r="3.45" fill="#1db34a"/>
<circle cx="300.3" cy="812.6" r="3.45" fill="#1db34a"/>
<circle cx="300.3" cy="778.8" r="3.45" fill="#1db34a"/>
<circle cx="331.5" cy="812.5" r="3.45" fill="#1db34a"/>
<circle cx="360.4" cy="778.7" r="3.45" fill="#1db34a"/>
<circle cx="360.4" cy="812.5" r="3.45" fill="#1db34a"/>
<circle cx="509.5" cy="813.1" r="3.45" fill="#1db34a"/>
<circle cx="541.9" cy="780.2" r="3.45" fill="#1db34a"/>
<circle cx="541.9" cy="813.1" r="3.45" fill="#1db34a"/>
<circle cx="573.2" cy="813.1" r="3.45" fill="#1db34a"/>
<circle cx="573.2" cy="847.9" r="3.45" fill="#1db34a"/>
<circle cx="606.6" cy="780.2" r="3.45" fill="#1db34a"/>
<circle cx="606.6" cy="813.9" r="3.45" fill="#1db34a"/>
<circle cx="606.6" cy="846.3" r="3.45" fill="#1db34a"/>
<path d="M113.8,776.8V801.6L119.5,809.6L125.1,801.6V776.8M119.5,809.6V826.1" fill="none" stroke="#9a9a9a" stroke-width="0.8"/>
<path d="M113.8,774.8L116.3,776.8L113.8,778.8L111.3,776.8Z" fill="#9a1aa8"/>
<ellipse cx="113.8" cy="785.2" rx="2.5" ry="2.2" fill="#f2ea10"/>
<rect x="111.3" y="791.25" width="5.0" height="3.9" fill="#1010e0"/>
<ellipse cx="113.8" cy="801.6" rx="2.5" ry="2.2" fill="#22b04a"/>
<path d="M125.1,774.8L127.6,776.8L125.1,778.8L122.6,776.8Z" fill="#9a1aa8"/>
<ellipse cx="125.1" cy="785.2" rx="2.5" ry="2.2" fill="#f2ea10"/>
<rect x="122.6" y="791.25" width="5.0" height="3.9" fill="#1010e0"/>
<ellipse cx="125.1" cy="801.6" rx="2.5" ry="2.2" fill="#22b04a"/>
<ellipse cx="119.5" cy="809.6" rx="2.5" ry="2.2" fill="#22b04a"/>
<rect x="117" y="816.05" width="5.0" height="3.9" fill="#1010e0"/>
<rect x="117" y="824.15" width="5.0" height="3.9" fill="#1010e0"/>
<path d="M138.3,775.8V800.9L143.9,809.1L149.9,800.9V784.4M143.9,809.1V826" fill="none" stroke="#9a9a9a" stroke-width="0.8"/>
<path d="M138.3,773.8L140.8,775.8L138.3,777.8L135.8,775.8Z" fill="#9a1aa8"/>
<ellipse cx="138.3" cy="784.4" rx="2.5" ry="2.2" fill="#f2ea10"/>
<rect x="135.8" y="790.55" width="5.0" height="3.9" fill="#1010e0"/>
<ellipse cx="138.3" cy="800.9" rx="2.5" ry="2.2" fill="#22b04a"/>
<ellipse cx="149.9" cy="784.4" rx="2.5" ry="2.2" fill="#f2ea10"/>
<rect x="147.4" y="790.55" width="5.0" height="3.9" fill="#1010e0"/>
<ellipse cx="149.9" cy="800.9" rx="2.5" ry="2.2" fill="#22b04a"/>
<ellipse cx="143.9" cy="809.1" rx="2.5" ry="2.2" fill="#22b04a"/>
<rect x="141.4" y="815.75" width="5.0" height="3.9" fill="#1010e0"/>
<rect x="141.4" y="824.05" width="5.0" height="3.9" fill="#1010e0"/>
<path d="M161.9,777.3V801.4L166.7,809.7L172.1,801.4V777.3M166.7,809.7V826.3" fill="none" stroke="#9a9a9a" stroke-width="0.8"/>
<path d="M161.9,775.3L164.4,777.3L161.9,779.3L159.4,777.3Z" fill="#9a1aa8"/>
<ellipse cx="161.9" cy="785.1" rx="2.5" ry="2.2" fill="#f2ea10"/>
<rect x="159.4" y="791.05" width="5.0" height="3.9" fill="#1010e0"/>
<ellipse cx="161.9" cy="801.4" rx="2.5" ry="2.2" fill="#22b04a"/>
<path d="M172.1,775.3L174.6,777.3L172.1,779.3L169.6,777.3Z" fill="#9a1aa8"/>
<ellipse cx="172.1" cy="785.1" rx="2.5" ry="2.2" fill="#f2ea10"/>
<rect x="169.6" y="791.05" width="5.0" height="3.9" fill="#1010e0"/>
<ellipse cx="172.1" cy="801.4" rx="2.5" ry="2.2" fill="#22b04a"/>
<ellipse cx="166.7" cy="809.7" rx="2.5" ry="2.2" fill="#22b04a"/>
<rect x="164.2" y="815.65" width="5.0" height="3.9" fill="#1010e0"/>
<rect x="164.2" y="824.35" width="5.0" height="3.9" fill="#1010e0"/>
<path d="M174.6,826.3L178.6,824.3L178.6,828.3Z" fill="#e03030"/>
<path d="M187,777.3V801.4L191.7,809.7L197.5,801.4V785.1M191.7,809.7V826.3" fill="none" stroke="#9a9a9a" stroke-width="0.8"/>
<path d="M187,775.3L189.5,777.3L187,779.3L184.5,777.3Z" fill="#9a1aa8"/>
<ellipse cx="187" cy="785.1" rx="2.5" ry="2.2" fill="#f2ea10"/>
<rect x="184.5" y="791.05" width="5.0" height="3.9" fill="#1010e0"/>
<ellipse cx="187" cy="801.4" rx="2.5" ry="2.2" fill="#22b04a"/>
<ellipse cx="197.5" cy="785.1" rx="2.5" ry="2.2" fill="#f2ea10"/>
<rect x="195" y="791.05" width="5.0" height="3.9" fill="#1010e0"/>
<ellipse cx="197.5" cy="801.4" rx="2.5" ry="2.2" fill="#22b04a"/>
<ellipse cx="191.7" cy="809.7" rx="2.5" ry="2.2" fill="#22b04a"/>
<rect x="189.2" y="815.65" width="5.0" height="3.9" fill="#1010e0"/>
<rect x="189.2" y="824.35" width="5.0" height="3.9" fill="#1010e0"/>
<line x1="191.7" y1="826.3" x2="203.1" y2="826.3" stroke="#9a9a9a" stroke-width="0.8"/>
<path d="M200.9,826.3L204.9,824.3L204.9,828.3Z" fill="#e03030"/>
<path d="M214,786.4V802.1L219.2,810.2L224.5,802.1V786.4M219.2,810.2V826.3" fill="none" stroke="#9a9a9a" stroke-width="0.8"/>
<ellipse cx="214" cy="786.4" rx="2.5" ry="2.2" fill="#f2ea10"/>
<rect x="211.5" y="792.45" width="5.0" height="3.9" fill="#1010e0"/>
<ellipse cx="214" cy="802.1" rx="2.5" ry="2.2" fill="#22b04a"/>
<ellipse cx="224.5" cy="786.4" rx="2.5" ry="2.2" fill="#f2ea10"/>
<rect x="222" y="792.45" width="5.0" height="3.9" fill="#1010e0"/>
<ellipse cx="224.5" cy="802.1" rx="2.5" ry="2.2" fill="#22b04a"/>
<ellipse cx="219.2" cy="810.2" rx="2.5" ry="2.2" fill="#22b04a"/>
<rect x="216.7" y="815.95" width="5.0" height="3.9" fill="#1010e0"/>
<rect x="216.7" y="824.35" width="5.0" height="3.9" fill="#1010e0"/>
<path d="M478.6,777.1V801.4L484.7,809.9L490.3,801.4V777.1M484.7,809.9V825.6" fill="none" stroke="#9a9a9a" stroke-width="0.8"/>
<path d="M478.6,775.1L481.1,777.1L478.6,779.1L476.1,777.1Z" fill="#9a1aa8"/>
<ellipse cx="478.6" cy="785.2" rx="2.5" ry="2.2" fill="#f2ea10"/>
<rect x="476.1" y="790.95" width="5.0" height="3.9" fill="#1010e0"/>
<ellipse cx="478.6" cy="801.4" rx="2.5" ry="2.2" fill="#22b04a"/>
<path d="M490.3,775.1L492.8,777.1L490.3,779.1L487.8,777.1Z" fill="#9a1aa8"/>
<ellipse cx="490.3" cy="785.2" rx="2.5" ry="2.2" fill="#f2ea10"/>
<rect x="487.8" y="790.95" width="5.0" height="3.9" fill="#1010e0"/>
<ellipse cx="490.3" cy="801.4" rx="2.5" ry="2.2" fill="#22b04a"/>
<ellipse cx="484.7" cy="809.9" rx="2.5" ry="2.2" fill="#22b04a"/>
<rect x="482.2" y="816.05" width="5.0" height="3.9" fill="#1010e0"/>
<rect x="482.2" y="823.65" width="5.0" height="3.9" fill="#1010e0"/>
<path d="M414.4,779.4L421,790.6L427.2,801.6L433.3,790.6M427.4,779.4L421,790.6M427.2,801.6V823.6" fill="none" stroke="#9a9a9a" stroke-width="0.8"/>
<ellipse cx="414.4" cy="779.4" rx="2.85" ry="2.6" fill="#22b04a"/>
<ellipse cx="427.4" cy="779.4" rx="2.85" ry="2.6" fill="#22b04a"/>
<ellipse cx="421" cy="790.6" rx="2.85" ry="2.6" fill="#22b04a"/>
<ellipse cx="433.3" cy="790.6" rx="2.85" ry="2.6" fill="#22b04a"/>
<ellipse cx="427.2" cy="801.6" rx="2.85" ry="2.6" fill="#22b04a"/>
<rect x="424.45" y="810.6" width="5.5" height="4.6" fill="#1010e0"/>
<rect x="424.45" y="821.3" width="5.5" height="4.6" fill="#1010e0"/>
<path d="M444.6,779V787.9L450.1,797.4L458,806.3L465.8,797.4M455,779V787.9L450.1,797.4M458,806.3V825" fill="none" stroke="#9a9a9a" stroke-width="0.8"/>
<ellipse cx="444.6" cy="779" rx="2.6" ry="2.3" fill="#22b04a"/>
<ellipse cx="455" cy="779" rx="2.6" ry="2.3" fill="#22b04a"/>
<ellipse cx="444.6" cy="787.9" rx="2.6" ry="2.3" fill="#22b04a"/>
<ellipse cx="455" cy="787.9" rx="2.6" ry="2.3" fill="#22b04a"/>
<ellipse cx="465.8" cy="787.9" rx="2.6" ry="2.3" fill="#22b04a"/>
<ellipse cx="450.1" cy="797.4" rx="2.6" ry="2.3" fill="#22b04a"/>
<ellipse cx="465.8" cy="797.4" rx="2.6" ry="2.3" fill="#22b04a"/>
<ellipse cx="458" cy="806.3" rx="2.6" ry="2.3" fill="#22b04a"/>
<rect x="455.6" y="813.9" width="4.8" height="4.2" fill="#1010e0"/>
<rect x="455.6" y="822.8" width="4.8" height="4.2" fill="#1010e0"/>
<path d="M673.9,779.6V813.9M699.5,796.9V813.9" fill="none" stroke="#9a9a9a" stroke-width="0.8"/>
<path d="M673.9,775.4L678.1,779.6L673.9,783.8L669.7,779.6Z" fill="#9a1aa8" stroke="#5a0a60" stroke-width="0.5"/>
<circle cx="673.9" cy="796.9" r="3.9" fill="#f2ea10" stroke="#8a8420" stroke-width="0.6"/>
<rect x="670.0" y="810" width="7.8" height="7.8" fill="#f2ea10" stroke="#8a8420" stroke-width="0.6"/>
<circle cx="699.5" cy="796.9" r="3.9" fill="#f2ea10" stroke="#8a8420" stroke-width="0.6"/>
<rect x="695.6" y="810" width="7.8" height="7.8" fill="#f2ea10" stroke="#8a8420" stroke-width="0.6"/>
<rect x="718.6" y="810.5" width="6.8" height="6.8" fill="#f2ea10" stroke="#8a8420" stroke-width="0.6"/>
<text x="-0.73" y="845.78" fill="#000" font-size="28.54" textLength="35.17" lengthAdjust="spacingAndGlyphs" font-weight="bold" stroke-width="0.3" stroke="#000">(c)</text>
<rect x="60.5" y="856.9" width="676.8" height="320.1" fill="none" stroke="#7f7f7f" stroke-width="1.3"/>
<line x1="60.5" y1="939.2" x2="70" y2="939.2" stroke="#7f7f7f" stroke-width="1.3"/>
<line x1="60.5" y1="1016.5" x2="70" y2="1016.5" stroke="#7f7f7f" stroke-width="1.3"/>
<line x1="60.5" y1="1099.0" x2="70" y2="1099.0" stroke="#7f7f7f" stroke-width="1.3"/>
<line x1="164.9" y1="1177" x2="164.9" y2="1180.2" stroke="#7f7f7f" stroke-width="1.2"/>
<line x1="259.3" y1="1177" x2="259.3" y2="1180.2" stroke="#7f7f7f" stroke-width="1.2"/>
<line x1="353.7" y1="1177" x2="353.7" y2="1180.2" stroke="#7f7f7f" stroke-width="1.2"/>
<line x1="447.2" y1="1177" x2="447.2" y2="1180.2" stroke="#7f7f7f" stroke-width="1.2"/>
<line x1="541.4" y1="1177" x2="541.4" y2="1180.2" stroke="#7f7f7f" stroke-width="1.2"/>
<line x1="636.0" y1="1177" x2="636.0" y2="1180.2" stroke="#7f7f7f" stroke-width="1.2"/>
<text x="18.85" y="872.5" fill="#000" font-size="20.76" textLength="33.94" lengthAdjust="spacingAndGlyphs" stroke-width="0.3" stroke="#000">100</text>
<text x="30.28" y="946.2" fill="#000" font-size="20.34" textLength="22.82" lengthAdjust="spacingAndGlyphs" stroke-width="0.3" stroke="#000">50</text>
<text x="42.12" y="1026.2" fill="#000" font-size="20.62" textLength="11.17" lengthAdjust="spacingAndGlyphs" stroke-width="0.3" stroke="#000">0</text>
<text x="22.97" y="1107.41" fill="#000" font-size="19.92" textLength="30.14" lengthAdjust="spacingAndGlyphs" stroke-width="0.3" stroke="#000">-50</text>
<text x="11.58" y="1180.2" fill="#000" font-size="20.9" textLength="41.22" lengthAdjust="spacingAndGlyphs" stroke-width="0.3" stroke="#000">-100</text>
<text x="135.67" y="1198.69" fill="#000" font-size="21.04" textLength="45.93" lengthAdjust="spacingAndGlyphs" stroke-width="0.3" stroke="#000">5800</text>
<text x="332.43" y="1198.69" fill="#000" font-size="21.04" textLength="46.69" lengthAdjust="spacingAndGlyphs" stroke-width="0.3" stroke="#000">6200</text>
<text x="519.73" y="1198.69" fill="#000" font-size="21.04" textLength="46.69" lengthAdjust="spacingAndGlyphs" stroke-width="0.3" stroke="#000">6600</text>
<text x="702.59" y="1198.2" fill="#000" font-size="20.5" textLength="29.66" lengthAdjust="spacingAndGlyphs" font-style="italic" stroke-width="0.3" stroke="#000">m/z</text>
<text x="662.23" y="878.6" fill="#000" font-size="20.76" textLength="66.23" lengthAdjust="spacingAndGlyphs" stroke-width="0.3" stroke="#000">R=0.95</text>
<line x1="85.5" y1="1016.6" x2="690" y2="1016.6" stroke="#b98040" stroke-width="1.1"/>
<line x1="690" y1="1016.6" x2="734" y2="1016.6" stroke="#2e9f8e" stroke-width="1.2"/>
<line x1="121.5" y1="1016.6" x2="121.5" y2="1020.8" stroke="#fae8d6" stroke-width="2.6"/>
<line x1="121.5" y1="1016.6" x2="121.5" y2="1010" stroke="#d8f6f2" stroke-width="2.6"/>
<line x1="124.4" y1="1016.6" x2="124.4" y2="1023.1" stroke="#fae8d6" stroke-width="2.6"/>
<line x1="124.4" y1="1016.6" x2="124.4" y2="1002.6" stroke="#d8f6f2" stroke-width="2.6"/>
<line x1="127.4" y1="1016.6" x2="127.4" y2="1022" stroke="#fae8d6" stroke-width="2.6"/>
<line x1="127.4" y1="1016.6" x2="127.4" y2="1007" stroke="#d8f6f2" stroke-width="2.6"/>
<line x1="130.1" y1="1016.6" x2="130.1" y2="1037.1" stroke="#fae8d6" stroke-width="2.6"/>
<line x1="130.1" y1="1016.6" x2="130.1" y2="997.5" stroke="#d8f6f2" stroke-width="2.6"/>
<line x1="133" y1="1016.6" x2="133" y2="1029" stroke="#fae8d6" stroke-width="2.6"/>
<line x1="133" y1="1016.6" x2="133" y2="1002.6" stroke="#d8f6f2" stroke-width="2.6"/>
<line x1="135.8" y1="1016.6" x2="135.8" y2="1021.8" stroke="#fae8d6" stroke-width="2.6"/>
<line x1="135.8" y1="1016.6" x2="135.8" y2="1014.3" stroke="#d8f6f2" stroke-width="2.6"/>
<line x1="121.5" y1="1016.6" x2="121.5" y2="1020.8" stroke="#c98a45" stroke-width="1.05"/>
<line x1="124.4" y1="1016.6" x2="124.4" y2="1023.1" stroke="#c98a45" stroke-width="1.05"/>
<line x1="127.4" y1="1016.6" x2="127.4" y2="1022" stroke="#c98a45" stroke-width="1.05"/>
<line x1="130.1" y1="1016.6" x2="130.1" y2="1037.1" stroke="#c98a45" stroke-width="1.05"/>
<line x1="133" y1="1016.6" x2="133" y2="1029" stroke="#c98a45" stroke-width="1.05"/>
<line x1="135.8" y1="1016.6" x2="135.8" y2="1021.8" stroke="#c98a45" stroke-width="1.05"/>
<line x1="121.5" y1="1016.6" x2="121.5" y2="1010" stroke="#2e9f8e" stroke-width="1.05"/>
<line x1="124.4" y1="1016.6" x2="124.4" y2="1002.6" stroke="#2e9f8e" stroke-width="1.05"/>
<line x1="127.4" y1="1016.6" x2="127.4" y2="1007" stroke="#2e9f8e" stroke-width="1.05"/>
<line x1="130.1" y1="1016.6" x2="130.1" y2="997.5" stroke="#2e9f8e" stroke-width="1.05"/>
<line x1="133" y1="1016.6" x2="133" y2="1002.6" stroke="#2e9f8e" stroke-width="1.05"/>
<line x1="135.8" y1="1016.6" x2="135.8" y2="1014.3" stroke="#2e9f8e" stroke-width="1.05"/>
<line x1="226.2" y1="1016.6" x2="226.2" y2="1019" stroke="#fae8d6" stroke-width="2.6"/>
<line x1="226.2" y1="1016.6" x2="226.2" y2="1011.8" stroke="#d8f6f2" stroke-width="2.6"/>
<line x1="229.2" y1="1016.6" x2="229.2" y2="1028.7" stroke="#fae8d6" stroke-width="2.6"/>
<line x1="229.2" y1="1016.6" x2="229.2" y2="988.2" stroke="#d8f6f2" stroke-width="2.6"/>
<line x1="232" y1="1016.6" x2="232" y2="1041.5" stroke="#fae8d6" stroke-width="2.6"/>
<line x1="232" y1="1016.6" x2="232" y2="959.3" stroke="#d8f6f2" stroke-width="2.6"/>
<line x1="235" y1="1016.6" x2="235" y2="1060.2" stroke="#fae8d6" stroke-width="2.6"/>
<line x1="235" y1="1016.6" x2="235" y2="975.8" stroke="#d8f6f2" stroke-width="2.6"/>
<line x1="237.7" y1="1016.6" x2="237.7" y2="1094.7" stroke="#fae8d6" stroke-width="2.6"/>
<line x1="237.7" y1="1016.6" x2="237.7" y2="936.8" stroke="#d8f6f2" stroke-width="2.6"/>
<line x1="240.7" y1="1016.6" x2="240.7" y2="1068.5" stroke="#fae8d6" stroke-width="2.6"/>
<line x1="240.7" y1="1016.6" x2="240.7" y2="959.7" stroke="#d8f6f2" stroke-width="2.6"/>
<line x1="244" y1="1016.6" x2="244" y2="1031" stroke="#fae8d6" stroke-width="2.6"/>
<line x1="244" y1="1016.6" x2="244" y2="1004.7" stroke="#d8f6f2" stroke-width="2.6"/>
<line x1="226.2" y1="1016.6" x2="226.2" y2="1019" stroke="#c98a45" stroke-width="1.05"/>
<line x1="229.2" y1="1016.6" x2="229.2" y2="1028.7" stroke="#c98a45" stroke-width="1.05"/>
<line x1="232" y1="1016.6" x2="232" y2="1041.5" stroke="#c98a45" stroke-width="1.05"/>
<line x1="235" y1="1016.6" x2="235" y2="1060.2" stroke="#c98a45" stroke-width="1.05"/>
<line x1="237.7" y1="1016.6" x2="237.7" y2="1094.7" stroke="#c98a45" stroke-width="1.05"/>
<line x1="240.7" y1="1016.6" x2="240.7" y2="1068.5" stroke="#c98a45" stroke-width="1.05"/>
<line x1="244" y1="1016.6" x2="244" y2="1031" stroke="#c98a45" stroke-width="1.05"/>
<line x1="226.2" y1="1016.6" x2="226.2" y2="1011.8" stroke="#2e9f8e" stroke-width="1.05"/>
<line x1="229.2" y1="1016.6" x2="229.2" y2="988.2" stroke="#2e9f8e" stroke-width="1.05"/>
<line x1="232" y1="1016.6" x2="232" y2="959.3" stroke="#2e9f8e" stroke-width="1.05"/>
<line x1="235" y1="1016.6" x2="235" y2="975.8" stroke="#2e9f8e" stroke-width="1.05"/>
<line x1="237.7" y1="1016.6" x2="237.7" y2="936.8" stroke="#2e9f8e" stroke-width="1.05"/>
<line x1="240.7" y1="1016.6" x2="240.7" y2="959.7" stroke="#2e9f8e" stroke-width="1.05"/>
<line x1="244" y1="1016.6" x2="244" y2="1004.7" stroke="#2e9f8e" stroke-width="1.05"/>
<line x1="341.8" y1="1016.6" x2="341.8" y2="1022.8" stroke="#fae8d6" stroke-width="2.6"/>
<line x1="341.8" y1="1016.6" x2="341.8" y2="1007.1" stroke="#d8f6f2" stroke-width="2.6"/>
<line x1="345.1" y1="1016.6" x2="345.1" y2="1046.1" stroke="#fae8d6" stroke-width="2.6"/>
<line x1="345.1" y1="1016.6" x2="345.1" y2="959.5" stroke="#d8f6f2" stroke-width="2.6"/>
<line x1="348.4" y1="1016.6" x2="348.4" y2="1073.6" stroke="#fae8d6" stroke-width="2.6"/>
<line x1="348.4" y1="1016.6" x2="348.4" y2="901.8" stroke="#d8f6f2" stroke-width="2.6"/>
<line x1="351.4" y1="1016.6" x2="351.4" y2="1108" stroke="#fae8d6" stroke-width="2.6"/>
<line x1="351.4" y1="1016.6" x2="351.4" y2="934.8" stroke="#d8f6f2" stroke-width="2.6"/>
<line x1="354.7" y1="1016.6" x2="354.7" y2="1176.5" stroke="#fae8d6" stroke-width="2.6"/>
<line x1="354.7" y1="1016.6" x2="354.7" y2="856.4" stroke="#d8f6f2" stroke-width="2.6"/>
<line x1="357.5" y1="1016.6" x2="357.5" y2="1131.4" stroke="#fae8d6" stroke-width="2.6"/>
<line x1="357.5" y1="1016.6" x2="357.5" y2="902.3" stroke="#d8f6f2" stroke-width="2.6"/>
<line x1="360.8" y1="1016.6" x2="360.8" y2="1047.5" stroke="#fae8d6" stroke-width="2.6"/>
<line x1="360.8" y1="1016.6" x2="360.8" y2="992.5" stroke="#d8f6f2" stroke-width="2.6"/>
<line x1="341.8" y1="1016.6" x2="341.8" y2="1022.8" stroke="#c98a45" stroke-width="1.05"/>
<line x1="345.1" y1="1016.6" x2="345.1" y2="1046.1" stroke="#c98a45" stroke-width="1.05"/>
<line x1="348.4" y1="1016.6" x2="348.4" y2="1073.6" stroke="#c98a45" stroke-width="1.05"/>
<line x1="351.4" y1="1016.6" x2="351.4" y2="1108" stroke="#c98a45" stroke-width="1.05"/>
<line x1="354.7" y1="1016.6" x2="354.7" y2="1176.5" stroke="#c98a45" stroke-width="1.05"/>
<line x1="357.5" y1="1016.6" x2="357.5" y2="1131.4" stroke="#c98a45" stroke-width="1.05"/>
<line x1="360.8" y1="1016.6" x2="360.8" y2="1047.5" stroke="#c98a45" stroke-width="1.05"/>
<line x1="341.8" y1="1016.6" x2="341.8" y2="1007.1" stroke="#2e9f8e" stroke-width="1.05"/>
<line x1="345.1" y1="1016.6" x2="345.1" y2="959.5" stroke="#2e9f8e" stroke-width="1.05"/>
<line x1="348.4" y1="1016.6" x2="348.4" y2="901.8" stroke="#2e9f8e" stroke-width="1.05"/>
<line x1="351.4" y1="1016.6" x2="351.4" y2="934.8" stroke="#2e9f8e" stroke-width="1.05"/>
<line x1="354.7" y1="1016.6" x2="354.7" y2="856.4" stroke="#2e9f8e" stroke-width="1.05"/>
<line x1="357.5" y1="1016.6" x2="357.5" y2="902.3" stroke="#2e9f8e" stroke-width="1.05"/>
<line x1="360.8" y1="1016.6" x2="360.8" y2="992.5" stroke="#2e9f8e" stroke-width="1.05"/>
<line x1="468" y1="1016.6" x2="468" y2="1023" stroke="#fae8d6" stroke-width="2.6"/>
<line x1="468" y1="1016.6" x2="468" y2="1010" stroke="#d8f6f2" stroke-width="2.6"/>
<line x1="471.4" y1="1016.6" x2="471.4" y2="1041" stroke="#fae8d6" stroke-width="2.6"/>
<line x1="471.4" y1="1016.6" x2="471.4" y2="976" stroke="#d8f6f2" stroke-width="2.6"/>
<line x1="474.6" y1="1016.6" x2="474.6" y2="1061" stroke="#fae8d6" stroke-width="2.6"/>
<line x1="474.6" y1="1016.6" x2="474.6" y2="936" stroke="#d8f6f2" stroke-width="2.6"/>
<line x1="478" y1="1016.6" x2="478" y2="1079" stroke="#fae8d6" stroke-width="2.6"/>
<line x1="478" y1="1016.6" x2="478" y2="960" stroke="#d8f6f2" stroke-width="2.6"/>
<line x1="481.2" y1="1016.6" x2="481.2" y2="1128" stroke="#fae8d6" stroke-width="2.6"/>
<line x1="481.2" y1="1016.6" x2="481.2" y2="905" stroke="#d8f6f2" stroke-width="2.6"/>
<line x1="484.4" y1="1016.6" x2="484.4" y2="1104" stroke="#fae8d6" stroke-width="2.6"/>
<line x1="484.4" y1="1016.6" x2="484.4" y2="937" stroke="#d8f6f2" stroke-width="2.6"/>
<line x1="487.6" y1="1016.6" x2="487.6" y2="1040" stroke="#fae8d6" stroke-width="2.6"/>
<line x1="487.6" y1="1016.6" x2="487.6" y2="1000" stroke="#d8f6f2" stroke-width="2.6"/>
<line x1="468" y1="1016.6" x2="468" y2="1023" stroke="#c98a45" stroke-width="1.05"/>
<line x1="471.4" y1="1016.6" x2="471.4" y2="1041" stroke="#c98a45" stroke-width="1.05"/>
<line x1="474.6" y1="1016.6" x2="474.6" y2="1061" stroke="#c98a45" stroke-width="1.05"/>
<line x1="478" y1="1016.6" x2="478" y2="1079" stroke="#c98a45" stroke-width="1.05"/>
<line x1="481.2" y1="1016.6" x2="481.2" y2="1128" stroke="#c98a45" stroke-width="1.05"/>
<line x1="484.4" y1="1016.6" x2="484.4" y2="1104" stroke="#c98a45" stroke-width="1.05"/>
<line x1="487.6" y1="1016.6" x2="487.6" y2="1040" stroke="#c98a45" stroke-width="1.05"/>
<line x1="468" y1="1016.6" x2="468" y2="1010" stroke="#2e9f8e" stroke-width="1.05"/>
<line x1="471.4" y1="1016.6" x2="471.4" y2="976" stroke="#2e9f8e" stroke-width="1.05"/>
<line x1="474.6" y1="1016.6" x2="474.6" y2="936" stroke="#2e9f8e" stroke-width="1.05"/>
<line x1="478" y1="1016.6" x2="478" y2="960" stroke="#2e9f8e" stroke-width="1.05"/>
<line x1="481.2" y1="1016.6" x2="481.2" y2="905" stroke="#2e9f8e" stroke-width="1.05"/>
<line x1="484.4" y1="1016.6" x2="484.4" y2="937" stroke="#2e9f8e" stroke-width="1.05"/>
<line x1="487.6" y1="1016.6" x2="487.6" y2="1000" stroke="#2e9f8e" stroke-width="1.05"/>
<line x1="606" y1="1016.6" x2="606" y2="1018" stroke="#fae8d6" stroke-width="2.6"/>
<line x1="606" y1="1016.6" x2="606" y2="1014" stroke="#d8f6f2" stroke-width="2.6"/>
<line x1="609.5" y1="1016.6" x2="609.5" y2="1023.5" stroke="#fae8d6" stroke-width="2.6"/>
<line x1="609.5" y1="1016.6" x2="609.5" y2="1002" stroke="#d8f6f2" stroke-width="2.6"/>
<line x1="613" y1="1016.6" x2="613" y2="1029.5" stroke="#fae8d6" stroke-width="2.6"/>
<line x1="613" y1="1016.6" x2="613" y2="988" stroke="#d8f6f2" stroke-width="2.6"/>
<line x1="616.2" y1="1016.6" x2="616.2" y2="1037" stroke="#fae8d6" stroke-width="2.6"/>
<line x1="616.2" y1="1016.6" x2="616.2" y2="996.5" stroke="#d8f6f2" stroke-width="2.6"/>
<line x1="619.3" y1="1016.6" x2="619.3" y2="1055.5" stroke="#fae8d6" stroke-width="2.6"/>
<line x1="619.3" y1="1016.6" x2="619.3" y2="976" stroke="#d8f6f2" stroke-width="2.6"/>
<line x1="622.7" y1="1016.6" x2="622.7" y2="1040" stroke="#fae8d6" stroke-width="2.6"/>
<line x1="622.7" y1="1016.6" x2="622.7" y2="988" stroke="#d8f6f2" stroke-width="2.6"/>
<line x1="626.2" y1="1016.6" x2="626.2" y2="1024.5" stroke="#fae8d6" stroke-width="2.6"/>
<line x1="626.2" y1="1016.6" x2="626.2" y2="1010.5" stroke="#d8f6f2" stroke-width="2.6"/>
<line x1="606" y1="1016.6" x2="606" y2="1018" stroke="#c98a45" stroke-width="1.05"/>
<line x1="609.5" y1="1016.6" x2="609.5" y2="1023.5" stroke="#c98a45" stroke-width="1.05"/>
<line x1="613" y1="1016.6" x2="613" y2="1029.5" stroke="#c98a45" stroke-width="1.05"/>
<line x1="616.2" y1="1016.6" x2="616.2" y2="1037" stroke="#c98a45" stroke-width="1.05"/>
<line x1="619.3" y1="1016.6" x2="619.3" y2="1055.5" stroke="#c98a45" stroke-width="1.05"/>
<line x1="622.7" y1="1016.6" x2="622.7" y2="1040" stroke="#c98a45" stroke-width="1.05"/>
<line x1="626.2" y1="1016.6" x2="626.2" y2="1024.5" stroke="#c98a45" stroke-width="1.05"/>
<line x1="606" y1="1016.6" x2="606" y2="1014" stroke="#2e9f8e" stroke-width="1.05"/>
<line x1="609.5" y1="1016.6" x2="609.5" y2="1002" stroke="#2e9f8e" stroke-width="1.05"/>
<line x1="613" y1="1016.6" x2="613" y2="988" stroke="#2e9f8e" stroke-width="1.05"/>
<line x1="616.2" y1="1016.6" x2="616.2" y2="996.5" stroke="#2e9f8e" stroke-width="1.05"/>
<line x1="619.3" y1="1016.6" x2="619.3" y2="976" stroke="#2e9f8e" stroke-width="1.05"/>
<line x1="622.7" y1="1016.6" x2="622.7" y2="988" stroke="#2e9f8e" stroke-width="1.05"/>
<line x1="626.2" y1="1016.6" x2="626.2" y2="1010.5" stroke="#2e9f8e" stroke-width="1.05"/>
<line x1="85.5" y1="1016.6" x2="690" y2="1016.6" stroke="#b98040" stroke-width="1.1"/>
</svg></body></html>
